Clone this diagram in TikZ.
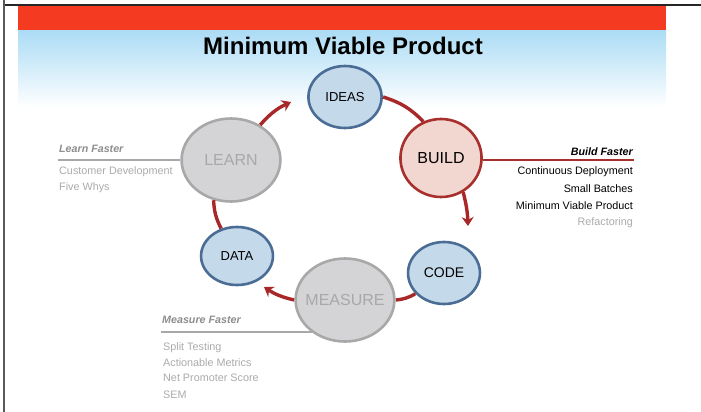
\documentclass[tikz,border=0pt]{standalone}
\usepackage{fontspec}
\setmainfont{Liberation Sans}
\usetikzlibrary{arrows.meta}
\definecolor{bandred}{HTML}{F53A22}
\definecolor{skyblue}{HTML}{ACDCF5}
\definecolor{loopred}{HTML}{A8282A}
\definecolor{bluefill}{HTML}{C4D9EA}
\definecolor{blueline}{HTML}{4A6D95}
\definecolor{pinkfill}{HTML}{F2D6D0}
\definecolor{buildline}{HTML}{A8302C}
\definecolor{greyfill}{HTML}{D4D4D6}
\definecolor{greyline}{HTML}{A8A8A8}
\definecolor{headgrey}{HTML}{8E8E8E}
\definecolor{itemgrey}{HTML}{ABABAB}
\newcommand{\fs}[1]{\fontsize{#1}{#1}\selectfont}
\begin{document}
\begin{tikzpicture}[x=1pt,y=-1pt,
  roundish/.style={circle, inner sep=0pt, line width=2.6pt},
  bluestage/.style={roundish, draw=blueline, fill=bluefill},
  greystage/.style={roundish, draw=greyline, fill=greyfill},
  flow/.style={draw=loopred, line width=3.4pt},
  tipped/.style={flow, -{Stealth[length=9pt,width=12pt,inset=3pt]}},
  sidehead/.style={font=\fs{10.7}\bfseries\itshape, inner sep=0pt},
  sideitem/.style={font=\fs{10.8}, inner sep=0pt}
]
\useasboundingbox (0,0) rectangle (701,412);
% slide background: red band and fading sky
\fill[bandred] (18,6) rectangle (666,31);
\shade[top color=skyblue, bottom color=white] (18,31) rectangle (666,108);
\fill[white] (18,108) rectangle (666,412);
% page frame
\draw[line width=1.5pt, black!85] (3,5) -- (701,5);
\draw[line width=2pt, black!65] (4,0) -- (4,412);

% title
\node[font=\fs{24}\bfseries] (title) at (343,46) {Minimum Viable Product};

% loop stages (ellipses drawn as stretched circles, labels set on top)
\node[bluestage, minimum size=62pt, xscale=1.18] (ideas) at (345,97) {};
\node[font=\fs{13}] at (ideas) {IDEAS};
\node[roundish, draw=buildline, fill=pinkfill, minimum size=78pt, xscale=1.04] (build) at (441,158) {};
\node[font=\fs{16}] at (build) {BUILD};
\node[bluestage, minimum size=62pt, xscale=1.16] (code) at (444,273) {};
\node[font=\fs{14}] at (code) {CODE};
\node[greystage, minimum size=83pt, xscale=1.19] (measure) at (345,300) {};
\node[font=\fs{16}, text=greyline] at (measure) {MEASURE};
\node[bluestage, minimum size=58pt, xscale=1.24] (data) at (237,256) {};
\node[font=\fs{13}] at (data) {DATA};
\node[greystage, minimum size=83pt, xscale=1.19] (learn) at (231,160) {};
\node[font=\fs{16}, text=greyline] at (learn) {LEARN};

% free ends of the arrows
\coordinate (toideas) at (291,102);
\coordinate (tocode) at (468,226);
\coordinate (todata) at (264,287);

% loop connectors, bowing outwards
\draw[tipped] (learn.55) to[bend left=12] (toideas);
\draw[flow] (ideas.east) to[bend left=14] (build.115);
\draw[tipped] (build.-58) to[bend left=6] (tocode);
\draw[flow] (code.-140) to[bend left=12] (measure.east);
\draw[tipped] (measure.west) to[bend left=10] (todata);
\draw[flow] (data.115) to[bend left=12] (learn.-110);

% learn notes
\node[sidehead, text=headgrey, anchor=base west] (lhead) at (59,152) {Learn Faster};
\coordinate (lrule) at (58,160);
\draw[greyline, line width=1.6pt] (lrule) -- (learn.west |- lrule);
\node[sideitem, text=itemgrey, anchor=base west] (l1) at (59,174) {Customer Development};
\node[sideitem, text=itemgrey, anchor=base west] (l2) at (59,190) {Five Whys};

% build notes
\node[sidehead, anchor=base east] (bhead) at (633,155) {Build Faster};
\coordinate (brule) at (634,160);
\draw[buildline, line width=1.6pt] (build.east |- brule) -- (brule);
\node[sideitem, anchor=base east] (b1) at (633,174) {Continuous Deployment};
\node[sideitem, anchor=base east] (b2) at (633,192) {Small Batches};
\node[sideitem, anchor=base east] (b3) at (633,209) {Minimum Viable Product};
\node[sideitem, text=itemgrey, anchor=base east] (b4) at (633,225) {Refactoring};

% measure notes
\node[sidehead, text=headgrey, anchor=base west] (mhead) at (162,323) {Measure Faster};
\coordinate (mrule) at (161,332);
\draw[greyline, line width=1.6pt] (mrule) -- (312,332);
\node[sideitem, text=itemgrey, anchor=base west] (m1) at (163,350) {Split Testing};
\node[sideitem, text=itemgrey, anchor=base west] (m2) at (163,366) {Actionable Metrics};
\node[sideitem, text=itemgrey, anchor=base west] (m3) at (163,381) {Net Promoter Score};
\node[sideitem, text=itemgrey, anchor=base west] (m4) at (163,398) {SEM};
\end{tikzpicture}
\end{document}
